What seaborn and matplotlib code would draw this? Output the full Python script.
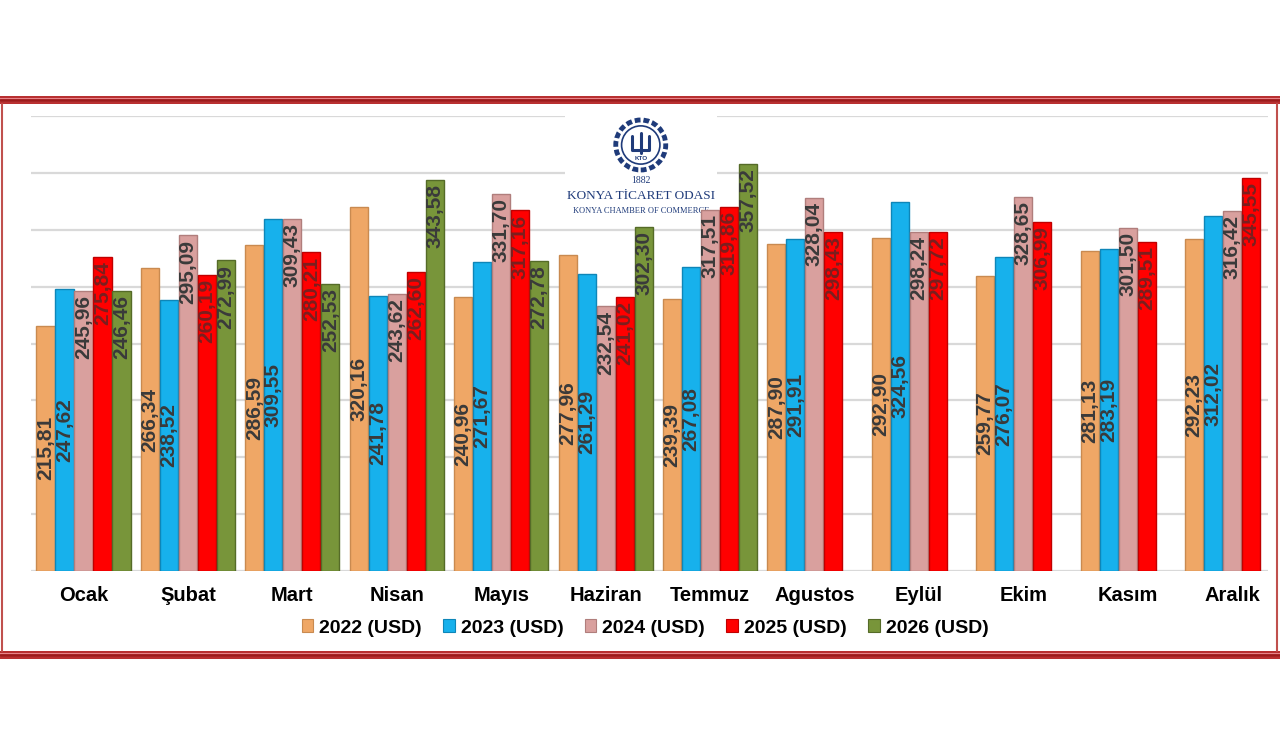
import numpy as np
import pandas as pd
import matplotlib.pyplot as plt
import seaborn as sns
from matplotlib.patches import Rectangle, Ellipse
from matplotlib.lines import Line2D

# aylar ve yillik degerler (USD)
months = ['Ocak', 'Şubat', 'Mart', 'Nisan', 'Mayıs', 'Haziran', 'Temmuz',
          'Agustos', 'Eylül', 'Ekim', 'Kasım', 'Aralık']
years = ['2022 (USD)', '2023 (USD)', '2024 (USD)', '2025 (USD)', '2026 (USD)']

v2022 = [215.81, 266.34, 286.59, 320.16, 240.96, 277.96, 239.39, 287.90, 292.90, 259.77, 281.13, 292.23]
v2023 = [247.62, 238.52, 309.55, 241.78, 271.67, 261.29, 267.08, 291.91, 324.56, 276.07, 283.19, 312.02]
v2024 = [245.96, 295.09, 309.43, 243.62, 331.70, 232.54, 317.51, 328.04, 298.24, 328.65, 301.50, 316.42]
v2025 = [275.84, 260.19, 280.21, 262.60, 317.16, 241.02, 319.86, 298.43, 297.72, 306.99, 289.51, 345.55]
v2026 = [246.46, 272.99, 252.53, 343.58, 272.78, 302.30, 357.52]

colors = ['#EFA766', '#17B1EC', '#D9A09E', '#FF0000', '#78953A']
edges = ['#C98A50', '#0E86B8', '#B07E7C', '#C00000', '#556B28']

rows = []
for yr, vals in zip(years, [v2022, v2023, v2024, v2025, v2026]):
    for m, v in zip(months, vals):
        rows.append({'Ay': m, 'Yil': yr, 'Deger': v})
df = pd.DataFrame(rows)

sns.set_style('white')
plt.rcParams['font.family'] = ['Liberation Sans', 'DejaVu Sans']

fig = plt.figure(figsize=(12.8, 7.54), dpi=100)
ax = fig.add_axes([31.3/1280, 1-571/754, (1268-31.3)/1280, 455/754])
ax.patch.set_alpha(0)

sns.barplot(data=df, x='Ay', y='Deger', hue='Yil', order=months, hue_order=years,
            palette=colors, saturation=1, width=0.91, gap=0.05, errorbar=None,
            legend=False, ax=ax)

for i, cont in enumerate(ax.containers):
    for bar in cont:
        bar.set_edgecolor(edges[i])
        bar.set_linewidth(1)
    labs = [f"{b.get_height():.2f}".replace('.', ',') for b in cont]
    tc = '#7A1F1F' if i == 3 else '#3A3A3A'
    if i < 2:
        ax.bar_label(cont, labels=labs, label_type='center', rotation=90,
                     fontsize=15, fontweight='bold', color=tc)
    else:
        for b, t in zip(cont, labs):
            ax.annotate(t, (b.get_x() + b.get_width()/2, b.get_height()),
                        xytext=(0, -3), textcoords='offset points', rotation=90,
                        ha='center', va='top', fontsize=15, fontweight='bold', color=tc)

ax.set_ylim(0, 400)
ax.set_xlim(-0.5, 11.345)
ax.set_yticks(np.arange(0, 401, 50))
ax.set_yticklabels([])
ax.tick_params(axis='y', length=0)
ax.tick_params(axis='x', length=0, pad=11, labelsize=14.5, labelcolor='black')
for lab in ax.get_xticklabels():
    lab.set_fontweight('bold')
ax.set_xlabel('')
ax.set_ylabel('')
ax.grid(axis='y', color='#D9D9D9', linewidth=1.6)
ax.set_axisbelow(True)
sns.despine(ax=ax, left=True, bottom=True)

# logo
logo_c = '#1F3B7A'
ax.add_patch(Rectangle((0.4316, 0.7538), 0.1229, 0.2593, transform=ax.transAxes,
                       facecolor='white', edgecolor='none', zorder=0.8, clip_on=False))
ax.add_patch(Ellipse((0.4928, 0.9363), 0.0404, 0.1099, transform=ax.transAxes,
                     facecolor='white', edgecolor=logo_c, linewidth=3.5, linestyle=(0, (1.2, 0.6)),
                     zorder=0.85, clip_on=False))
ax.add_patch(Ellipse((0.4928, 0.9363), 0.031, 0.084, transform=ax.transAxes,
                     facecolor='none', edgecolor=logo_c, linewidth=1.2, zorder=0.86, clip_on=False))
ax.plot([0.4858, 0.4858, 0.4998, 0.4998], [0.955, 0.925, 0.925, 0.955], transform=ax.transAxes,
        color=logo_c, linewidth=2.2, zorder=0.87, clip_on=False)
ax.plot([0.4928, 0.4928], [0.963, 0.918], transform=ax.transAxes,
        color=logo_c, linewidth=2.2, zorder=0.87, clip_on=False)
ax.text(0.4928, 0.907, 'KTO', transform=ax.transAxes, ha='center', va='center', fontsize=4.5,
        color=logo_c, fontweight='bold', zorder=0.88)
ax.text(0.4928, 0.859, '1882', transform=ax.transAxes, ha='center', va='center', fontsize=7,
        family='Liberation Serif', color=logo_c, zorder=0.88)
ax.text(0.4928, 0.824, 'KONYA TİCARET ODASI', transform=ax.transAxes, ha='center', va='center',
        fontsize=9.5, family='Liberation Serif', color=logo_c, zorder=0.88)
ax.text(0.4928, 0.792, 'KONYA CHAMBER OF COMMERCE', transform=ax.transAxes, ha='center',
        va='center', fontsize=6, family='Liberation Serif', color=logo_c, zorder=0.88)

# legend
handles = [Rectangle((0, 0), 1, 1, facecolor=c, edgecolor=e, linewidth=0.8) for c, e in zip(colors, edges)]
fig.legend(handles, years, loc='center', bbox_to_anchor=(645/1280, 1-628/754), ncol=5,
           frameon=False, handlelength=0.6, handleheight=0.6, handletextpad=0.3,
           columnspacing=1.1, labelcolor='black', prop={'size': 14, 'weight': 'bold'})

# cerceve
H = 754.0
for y0 in (96, 651):
    fig.add_artist(Rectangle((0, 1-(y0+8)/H), 1, 8/H, transform=fig.transFigure,
                             facecolor='#E8858A', edgecolor='none'))
    for yy, lw, c in ((y0+1, 1.2, '#B02020'), (y0+4, 2.0, '#9E1B1B'), (y0+7, 1.2, '#B02020')):
        fig.add_artist(Line2D([0, 1], [1-yy/H, 1-yy/H], transform=fig.transFigure, color=c, linewidth=lw))
for xx in (2, 1277):
    fig.add_artist(Line2D([xx/1280, xx/1280], [1-651/H, 1-104/H], transform=fig.transFigure,
                          color='#C0504D', linewidth=1.5))

fig.savefig('out.png', dpi=100, facecolor='white')
